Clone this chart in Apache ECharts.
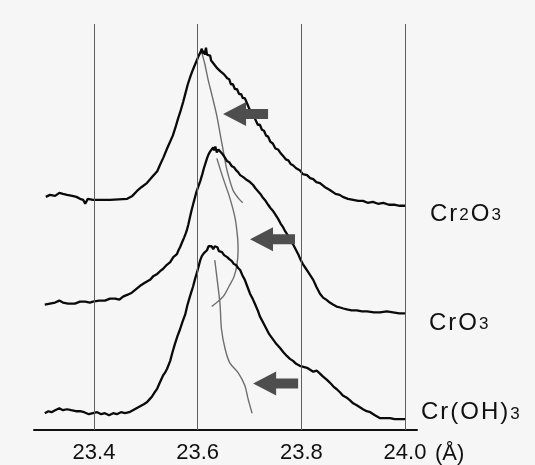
<!DOCTYPE html>
<html>
<head>
<meta charset="utf-8">
<script src="https://cdn.jsdelivr.net/npm/echarts@6/dist/echarts.min.js"></script>
<style>
  html, body { margin: 0; padding: 0; background: #f6f6f6; }
  #chart { width: 535px; height: 465px; }
</style>
</head>
<body>
<div id="chart"></div>
<script>
// spectra (x in Å, y = intensity incl. stacking offset)
const names = ['Cr2O3', 'CrO3', 'Cr(OH)3']
const tickValues = [23.4, 23.6, 23.8, 24.0]

const cr2o3 = [
  [23.307,236],[23.315,238],[23.325,237],[23.333,240],[23.340,239],[23.348,238],[23.358,237],[23.366,236],
  [23.373,234],[23.379,233],[23.383,229],[23.388,234],[23.398,233],[23.431,233],[23.464,234],[23.474,237],
  [23.483,242],[23.492,246],[23.502,250],[23.512,256],[23.522,262],[23.527,268],[23.534,276],[23.541,285],
  [23.547,292],[23.552,298],[23.557,306],[23.562,315],[23.567,323],[23.572,332],[23.577,342],[23.581,350],
  [23.586,358],[23.591,365],[23.595,370],[23.599,375],[23.602,379],[23.605,382],[23.608,386],[23.610,381],
  [23.612,384],[23.614,380],[23.616,387],[23.618,380],[23.620,378],[23.624,379],[23.626,374],[23.628,376],
  [23.632,370],[23.635,371],[23.638,366],[23.641,367],[23.644,363],[23.647,364],[23.651,360],[23.654,361],
  [23.657,356],[23.661,355],[23.664,350],[23.668,350],[23.672,345],[23.676,345],[23.680,340],[23.684,340],
  [23.687,336],[23.691,336],[23.695,331],[23.699,326],[23.702,324],[23.705,320],[23.709,317],[23.712,315],
  [23.716,309],[23.720,309],[23.724,304],[23.728,303],[23.732,298],[23.736,297],[23.740,292],[23.745,290],
  [23.750,285],[23.755,284],[23.759,281],[23.764,278],[23.770,274],[23.775,273],[23.780,269],[23.784,268],
  [23.790,265],[23.797,263],[23.803,259],[23.811,258],[23.817,255],[23.823,254],[23.829,251],[23.836,250],
  [23.845,246],[23.855,243],[23.866,239],[23.874,238],[23.880,236],[23.890,234],[23.900,233],[23.910,232],
  [23.919,232],[23.928,230],[23.938,231],[23.948,229],[23.958,230],[23.969,228],[23.981,228],[23.990,227],
  [24.000,227]
]

const cro3 = [
  [23.305,127],[23.315,128],[23.325,129],[23.333,131],[23.340,129],[23.350,128],[23.363,128],[23.373,130],
  [23.383,130],[23.392,129],[23.398,130],[23.410,131],[23.421,131],[23.431,133],[23.441,133],[23.449,132],
  [23.456,135],[23.465,137],[23.473,139],[23.480,142],[23.489,146],[23.498,149],[23.508,152],[23.515,156],
  [23.522,158],[23.528,161],[23.533,163],[23.540,167],[23.547,170],[23.553,175],[23.560,178],[23.563,182],
  [23.566,185],[23.570,190],[23.574,195],[23.577,199],[23.579,202],[23.582,208],[23.585,215],[23.588,222],
  [23.591,228],[23.594,234],[23.597,240],[23.601,246],[23.605,252],[23.609,259],[23.612,265],[23.615,270],
  [23.618,275],[23.621,279],[23.624,282],[23.627,280],[23.630,286],[23.632,283],[23.634,287],[23.637,281],
  [23.640,284],[23.643,282],[23.647,280],[23.651,277],[23.654,276],[23.657,272],[23.661,271],[23.666,267],
  [23.670,266],[23.674,263],[23.678,261],[23.682,258],[23.688,256],[23.695,253],[23.701,251],[23.707,248],
  [23.711,245],[23.716,242],[23.721,239],[23.726,235],[23.731,232],[23.736,228],[23.740,225],[23.745,222],
  [23.750,218],[23.755,214],[23.760,209],[23.765,205],[23.769,201],[23.774,197],[23.779,192],[23.784,188],
  [23.789,183],[23.794,178],[23.798,173],[23.803,168],[23.808,164],[23.813,160],[23.818,156],[23.823,152],
  [23.829,145],[23.836,138],[23.842,134],[23.848,132],[23.855,129],[23.861,127],[23.868,125],[23.875,124],
  [23.881,123],[23.888,122],[23.897,121],[23.907,121],[23.917,120],[23.927,120],[23.940,119],[23.952,119],
  [23.965,120],[23.977,119],[23.989,118],[24.000,118]
]

const croh3 = [
  [23.305,17],[23.312,19],[23.318,18],[23.325,20],[23.333,22],[23.340,20],[23.348,21],[23.356,20],
  [23.365,19],[23.373,19],[23.381,18],[23.390,16],[23.398,17],[23.406,18],[23.414,16],[23.421,17],
  [23.429,15],[23.437,17],[23.444,16],[23.452,18],[23.460,17],[23.468,18],[23.475,20],[23.482,22],
  [23.489,24],[23.496,26],[23.502,28],[23.507,31],[23.512,34],[23.517,38],[23.522,42],[23.527,48],
  [23.533,55],[23.537,58],[23.541,62],[23.547,70],[23.551,78],[23.556,87],[23.561,95],[23.566,102],
  [23.571,110],[23.576,117],[23.580,126],[23.585,135],[23.588,140],[23.591,145],[23.595,153],[23.599,160],
  [23.602,166],[23.605,172],[23.608,176],[23.612,179],[23.615,181],[23.618,182],[23.621,186],[23.624,184],
  [23.627,186],[23.630,183],[23.633,186],[23.635,184],[23.638,185],[23.641,181],[23.644,182],[23.647,180],
  [23.651,177],[23.654,178],[23.657,175],[23.661,173],[23.666,171],[23.670,168],[23.674,167],[23.678,164],
  [23.682,162],[23.686,157],[23.691,152],[23.696,145],[23.701,138],[23.706,133],[23.711,127],[23.716,121],
  [23.720,115],[23.726,109],[23.732,103],[23.738,97],[23.745,92],[23.752,87],[23.759,83],[23.765,79],
  [23.772,75],[23.778,72],[23.784,70],[23.790,67],[23.797,65],[23.804,64],[23.811,63],[23.817,61],
  [23.823,59],[23.830,60],[23.836,57],[23.842,54],[23.849,51],[23.855,48],[23.862,44],[23.869,41],
  [23.875,38],[23.880,35],[23.887,33],[23.894,30],[23.900,27],[23.907,25],[23.913,23],[23.919,21],
  [23.926,19],[23.933,18],[23.942,15],[23.952,12],[23.961,12],[23.971,12],[23.980,11],[23.990,11],
  [24.000,11]
]

// thin peak-position traces
const trace1 = [[23.608,382],[23.614,370],[23.620,355],[23.628,338],[23.637,318],[23.645,295],[23.651,278],[23.657,262],[23.668,243],[23.678,235],[23.687,230]]
const trace2 = [[23.637,275],[23.649,255],[23.662,235],[23.672,215],[23.677,195],[23.678,182],[23.676,168],[23.670,155],[23.662,147],[23.649,135],[23.627,125]]
const trace3 = [[23.633,172],[23.637,155],[23.643,128],[23.646,102],[23.653,82],[23.662,68],[23.678,58],[23.691,45],[23.697,32],[23.705,17]]

// arrow tips
const arrowTips = [[23.649,320],[23.701,193],[23.707,47]]

const font = "'Liberation Sans', Arial, sans-serif"

const richName = (name) =>
  name.split('').map((ch) => (/\d/.test(ch) ? '{s|' + ch + '}' : '{m|' + ch + '}')).join('')

const labelOffsets = [[16, 7], [15, 8], [7, -8]]

const spectrum = (data, i) => ({
  type: 'line',
  name: names[i],
  data,
  symbol: 'none',
  smooth: false,
  z: 3,
  lineStyle: { color: '#0a0a0a', width: 2.3 },
  emphasis: { disabled: true },
  endLabel: {
    show: true,
    offset: labelOffsets[i],
    formatter: () => richName(names[i]),
    rich: {
      m: { fontFamily: font, fontSize: 24, color: '#111', lineHeight: 27, verticalAlign: 'bottom', padding: [0, 1, 0, 1] },
      s: { fontFamily: font, fontSize: 17, color: '#111', lineHeight: 27, verticalAlign: 'bottom', padding: [0, 1, 2, 1] },
    },
  },
})

const trace = (data) => ({
  type: 'line',
  data,
  symbol: 'none',
  smooth: 0.3,
  z: 2,
  lineStyle: { color: '#6e6e6e', width: 1.4 },
  emphasis: { disabled: true },
})

const chart = echarts.init(document.getElementById('chart'))

chart.setOption({
  animation: false,
  backgroundColor: '#f6f6f6',
  grid: { left: 34, right: 118, top: 24, bottom: 30 },
  xAxis: {
    type: 'value',
    min: 23.2842,
    max: 24.0232,
    name: '(Å)',
    nameLocation: 'end',
    nameGap: 18,
    nameTextStyle: { fontFamily: font, fontSize: 22, color: '#111', verticalAlign: 'top', padding: [13, 0, 0, 0] },
    axisLine: { lineStyle: { color: '#111', width: 2 } },
    axisTick: { show: false },
    splitLine: { show: false },
    axisLabel: {
      customValues: tickValues,
      formatter: (v) => v.toFixed(1),
      fontFamily: font,
      fontSize: 22,
      color: '#111',
      margin: 12,
    },
  },
  yAxis: {
    type: 'value',
    min: 0,
    max: 411,
    show: false,
  },
  series: [
    {
      type: 'line',
      data: [],
      silent: true,
      markLine: {
        silent: true,
        symbol: 'none',
        label: { show: false },
        lineStyle: { color: '#5e5e5e', width: 1, type: 'solid' },
        data: tickValues.map((v) => ({ xAxis: v })),
      },
    },
    spectrum(cr2o3, 0),
    spectrum(cro3, 1),
    spectrum(croh3, 2),
    trace(trace1),
    trace(trace2),
    trace(trace3),
    {
      type: 'custom',
      data: arrowTips,
      z: 4,
      silent: true,
      renderItem: (params, api) => {
        const p = api.coord([api.value(0), api.value(1)])
        const x = p[0]
        const y = p[1]
        return {
          type: 'polygon',
          shape: {
            points: [
              [x, y], [x + 23, y - 12], [x + 23, y - 5], [x + 45, y - 5],
              [x + 45, y + 5], [x + 23, y + 5], [x + 23, y + 12],
            ],
          },
          style: { fill: '#4e4e4e' },
        }
      },
    },
  ],
})
</script>
</body>
</html>
